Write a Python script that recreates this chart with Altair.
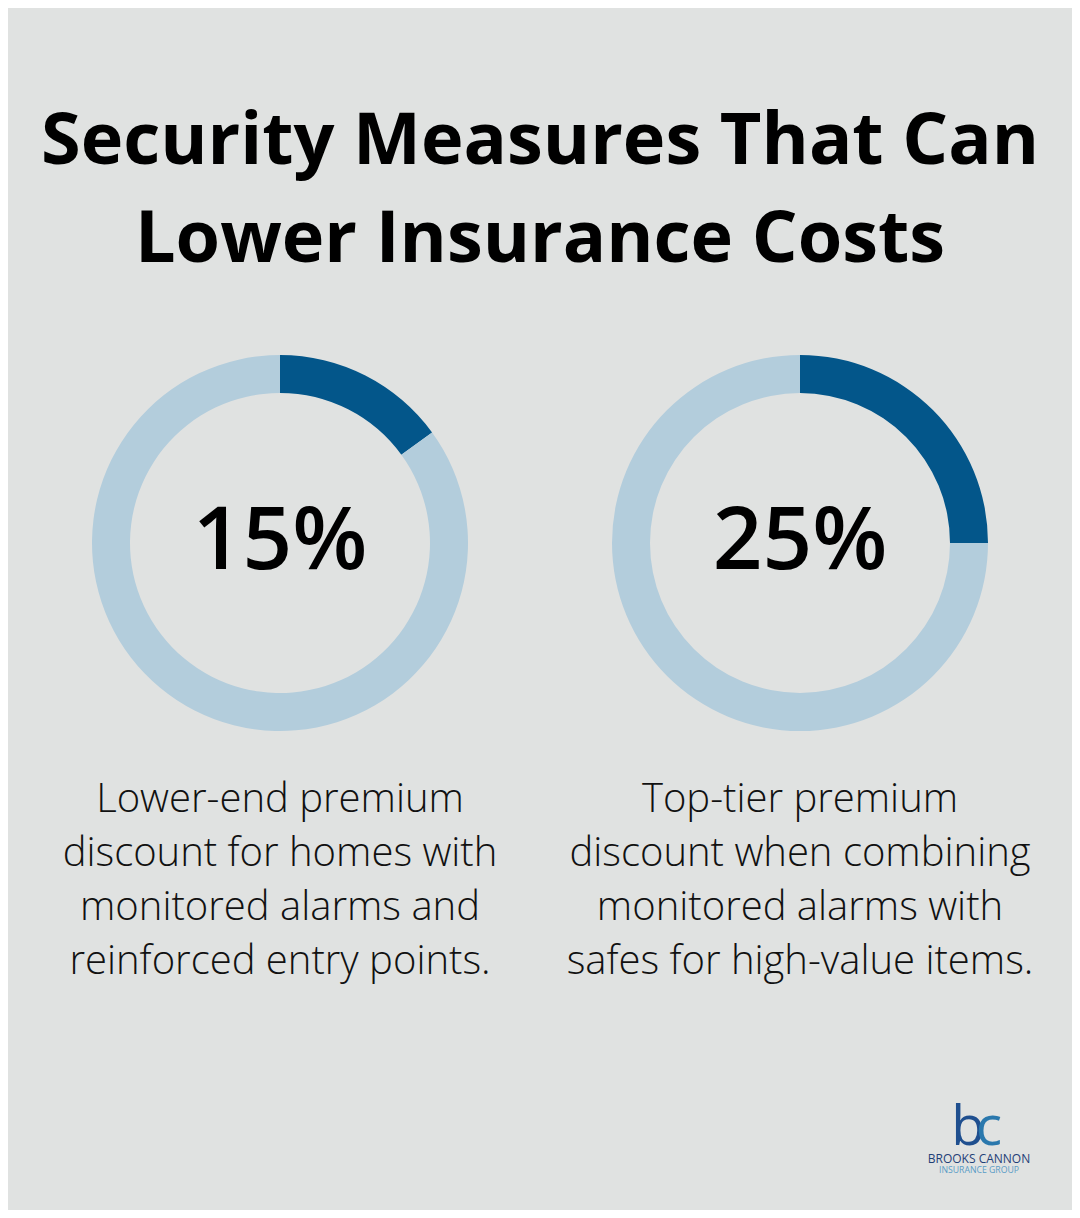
import altair as alt
import pandas as pd

# ---- data ----
title_lines = ["Security Measures That Can", "Lower Insurance Costs"]
percents = [15, 25]
percent_labels = ["15%", "25%"]
captions = [
    ["Lower-end premium", "discount for homes with", "monitored alarms and", "reinforced entry points."],
    ["Top-tier premium", "discount when combining", "monitored alarms with", "safes for high-value items."],
]
brand_mark = ["b", "c"]
brand_lines = ["BROOKS CANNON", "INSURANCE GROUP"]

# ---- layout / style ----
OFF = 8  # page margin
W, H = 1080 - 2 * OFF, 1218 - 2 * OFF
BG = "#e0e2e1"
DARK = "#03568a"
LIGHT = "#b3cddc"
FONT = "Open Sans"
centers_x = [280, 800]
center_y = 543

layers = []

# title
for i, line in enumerate(title_lines):
    layers.append(
        alt.Chart(pd.DataFrame({"t": [line]})).mark_text(
            font=FONT, fontSize=72, fontWeight="bold", color="#000000",
            align="center", baseline="alphabetic"
        ).encode(text="t:N", x=alt.value(540 - OFF), y=alt.value(164 + 98 * i - OFF))
    )

# donuts
for i, p in enumerate(percents):
    df = pd.DataFrame({"part": ["value", "rest"], "v": [p, 100 - p], "o": [0, 1]})
    layers.append(
        alt.Chart(df).mark_arc(innerRadius=150, outerRadius=188).encode(
            theta=alt.Theta("v:Q", stack=True,
                            scale=alt.Scale(domain=[0, 100], range=[0, 6.283185307])),
            color=alt.Color("part:N", scale=alt.Scale(domain=["value", "rest"], range=[DARK, LIGHT]),
                            legend=None),
            order=alt.Order("o:Q"),
            x=alt.value(centers_x[i] - OFF),
            y=alt.value(center_y - OFF),
        )
    )
    layers.append(
        alt.Chart(pd.DataFrame({"t": [percent_labels[i]]})).mark_text(
            font=FONT, fontSize=87, fontWeight=600, color="#000000",
            align="center", baseline="alphabetic"
        ).encode(text="t:N", x=alt.value(centers_x[i] - OFF), y=alt.value(569 - OFF))
    )
    for j, line in enumerate(captions[i]):
        layers.append(
            alt.Chart(pd.DataFrame({"t": [line]})).mark_text(
                font=FONT, fontSize=40, fontWeight=300, color="#111111",
                align="center", baseline="alphabetic"
            ).encode(text="t:N", x=alt.value(centers_x[i] - OFF), y=alt.value(812 + 54 * j - OFF))
        )

# logo
layers.append(
    alt.Chart(pd.DataFrame({"t": [brand_mark[0]]})).mark_text(
        font=FONT, fontSize=55, fontWeight="normal", color="#1f4f8f",
        align="center", baseline="alphabetic"
    ).encode(text="t:N", x=alt.value(968 - OFF), y=alt.value(1145 - OFF))
)
layers.append(
    alt.Chart(pd.DataFrame({"t": [brand_mark[1]]})).mark_text(
        font=FONT, fontSize=55, fontWeight="normal", color="#2a78ad",
        align="center", baseline="alphabetic"
    ).encode(text="t:N", x=alt.value(989 - OFF), y=alt.value(1145 - OFF))
)
layers.append(
    alt.Chart(pd.DataFrame({"t": [brand_lines[0]]})).mark_text(
        font=FONT, fontSize=12, color="#1f4077", align="center", baseline="alphabetic"
    ).encode(text="t:N", x=alt.value(979 - OFF), y=alt.value(1163 - OFF))
)
layers.append(
    alt.Chart(pd.DataFrame({"t": [brand_lines[1]]})).mark_text(
        font=FONT, fontSize=8.7, color="#5a9cc6", align="center", baseline="alphabetic"
    ).encode(text="t:N", x=alt.value(979 - OFF), y=alt.value(1173 - OFF))
)

chart = alt.layer(*layers).properties(
    width=W, height=H, background=BG, padding=0,
    autosize=alt.AutoSizeParams(type="none")
).configure_view(stroke=None, fill=BG)

chart.save("out.html", embed_options={"renderer": "svg", "actions": False})
